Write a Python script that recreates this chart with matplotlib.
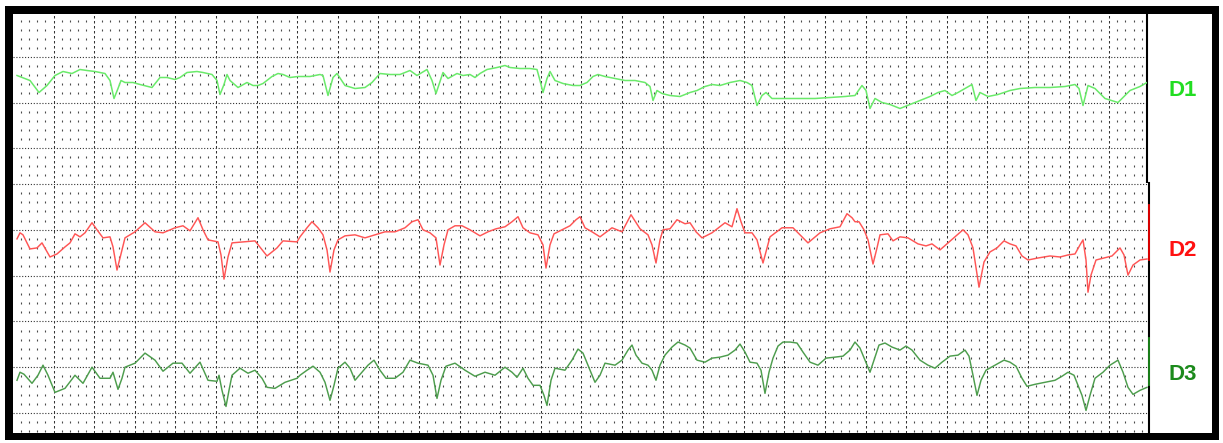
import numpy as np
import matplotlib
matplotlib.use("Agg")
import matplotlib.pyplot as plt
from matplotlib.patches import Rectangle

# ---------------- data (sample index @ 203 Hz, amplitude in ADC counts, 91 counts = 1 mV)
FS = 203.0
GAIN = 91.0

d1_n = [4, 17, 26, 34, 42, 50, 59, 67, 74, 82, 92, 97, 101, 105, 108, 112, 120, 127, 139, 147,
        154, 162, 167, 174, 184, 190, 199, 204, 207, 211, 214, 217, 225, 234, 240, 245, 250, 259, 265, 270,
        277, 285, 297, 307, 310, 315, 320, 324, 332, 342, 352, 359, 367, 377, 387, 397, 404, 414, 419, 423,
        430, 435, 444, 450, 457, 462, 467, 474, 484, 492, 497, 507, 517, 524, 527, 530, 534, 537, 542, 550,
        560, 567, 574, 580, 585, 592, 602, 612, 622, 632, 637, 640, 644, 649, 657, 667, 677, 684, 692, 699,
        707, 717, 727, 734, 739, 744, 749, 753, 759, 772, 787, 802, 817, 832, 842, 849, 853, 857, 862, 869,
        877, 887, 897, 907, 917, 925, 932, 939, 945, 952, 959, 963, 967, 975, 985, 997, 1007, 1022, 1037, 1052,
        1062, 1066, 1070, 1075, 1082, 1092, 1105, 1117, 1127, 1134]
d1_v = [27, 22, 10, 17, 27, 31, 29, 33, 32, 31, 29, 22, 4, 14, 22, 20, 20, 18, 15, 25,
        25, 23, 25, 30, 31, 30, 28, 22, 8, 18, 28, 22, 15, 20, 17, 17, 19, 26, 29, 28,
        25, 26, 26, 28, 27, 7, 25, 29, 17, 14, 15, 20, 29, 28, 28, 32, 27, 33, 22, 9,
        30, 24, 29, 27, 28, 25, 29, 33, 35, 37, 35, 34, 34, 33, 22, 10, 24, 31, 22, 19,
        17, 17, 20, 26, 28, 26, 24, 22, 22, 20, 16, 2, 12, 9, 7, 6, 10, 12, 16, 18,
        17, 20, 22, 20, 17, -3, 7, 10, 4, 4, 4, 4, 5, 6, 7, 17, 12, -6, 4, 0,
        -2, -6, -2, 2, 6, 10, 12, 7, 10, 14, 18, 2, 10, 6, 8, 12, 14, 15, 15, 16,
        18, 14, -3, 17, 14, 4, 0, 12, 16, 20]

d2_n = [4, 7, 10, 17, 24, 29, 37, 44, 52, 57, 62, 67, 72, 79, 84, 90, 97, 100, 104, 109,
        112, 122, 132, 142, 150, 162, 170, 177, 185, 190, 195, 205, 208, 211, 215, 219, 230, 242, 254, 264,
        270, 284, 287, 294, 299, 305, 310, 314, 317, 321, 325, 332, 342, 352, 362, 372, 382, 392, 399, 405,
        410, 417, 423, 427, 431, 435, 442, 449, 457, 467, 475, 483, 492, 499, 505, 510, 517, 525, 530, 533,
        537, 541, 549, 557, 563, 567, 572, 579, 587, 599, 609, 618, 627, 635, 639, 643, 647, 650, 657, 664,
        672, 677, 683, 689, 699, 712, 719, 724, 728, 732, 739, 744, 750, 754, 757, 769, 780, 787, 795, 807,
        817, 827, 834, 839, 842, 846, 851, 855, 860, 864, 867, 875, 880, 887, 895, 905, 913, 919, 927, 935,
        942, 950, 955, 960, 966, 971, 977, 984, 991, 997, 1003, 1009, 1015, 1025, 1037, 1047, 1055, 1062, 1067, 1070,
        1073, 1075, 1078, 1083, 1091, 1099, 1107, 1111, 1115, 1120, 1127, 1134]
d2_v = [-9, -3, -5, -19, -18, -13, -27, -24, -17, -13, -4, -7, -3, 7, 0, -8, -7, -17, -40, -20,
        -8, -2, 7, -2, -3, 2, 4, -1, 12, 0, -10, -12, -25, -49, -27, -13, -12, -11, -26, -18,
        -11, -12, -7, 2, 8, 2, -5, -20, -42, -20, -10, -6, -5, -8, -5, -2, -2, 2, 8, 10,
        0, -3, -8, -35, -15, 0, 4, 4, 0, -6, -2, 1, 3, 8, 13, 2, -3, -5, -15, -38,
        -15, -4, 0, 4, 10, 13, 2, -2, -7, 2, -2, 15, 1, -5, -15, -33, -10, 0, 1, 10,
        6, 7, -2, -8, -3, 7, 3, 21, 8, -3, -3, -10, -33, -18, -7, 2, 2, -5, -13, -3,
        1, 3, 16, 12, 8, 8, 0, -10, -34, -18, -5, -4, -11, -7, -8, -14, -16, -14, -20, -13,
        -7, 0, -5, -18, -57, -32, -22, -18, -11, -14, -16, -26, -30, -28, -26, -27, -25, -24, -15, -10,
        -30, -62, -45, -30, -28, -26, -18, -25, -45, -35, -30, -29]

d3_n = [4, 7, 11, 19, 25, 30, 35, 42, 52, 62, 70, 79, 87, 97, 100, 105, 109, 112, 122, 132,
        142, 150, 160, 169, 177, 187, 195, 204, 206, 209, 213, 216, 219, 227, 235, 242, 249, 254, 262, 272,
        284, 287, 294, 300, 307, 312, 317, 321, 325, 332, 337, 342, 349, 355, 361, 367, 373, 382, 390, 397,
        405, 415, 420, 424, 428, 433, 442, 452, 462, 472, 482, 492, 499, 504, 510, 515, 520, 527, 531, 534,
        538, 542, 552, 559, 565, 570, 575, 582, 587, 592, 602, 609, 615, 619, 623, 629, 635, 639, 643, 647,
        652, 659, 665, 672, 677, 684, 692, 699, 707, 715, 722, 727, 732, 737, 744, 748, 752, 756, 760, 765,
        770, 777, 784, 790, 797, 805, 813, 822, 830, 837, 842, 847, 852, 857, 861, 866, 872, 879, 887, 893,
        899, 907, 915, 922, 929, 937, 945, 952, 956, 960, 964, 968, 973, 982, 991, 997, 1003, 1009, 1014, 1022,
        1032, 1042, 1049, 1055, 1061, 1065, 1069, 1073, 1077, 1082, 1090, 1097, 1105, 1110, 1115, 1120, 1127, 1134]
d3_v = [-13, -5, -7, -16, -8, 2, -8, -25, -21, -8, -16, 0, -11, -11, -5, -22, -11, 0, 4, 14,
        7, -4, 4, 4, -6, 5, -13, -14, -8, -23, -39, -23, -8, -1, -6, -3, -11, -20, -21, -15,
        -11, -8, -3, 1, -5, -15, -33, -18, -1, 5, -1, -13, -5, 2, 7, -3, -11, -11, -5, 7,
        4, 2, -8, -31, -13, 1, 4, -3, -9, -5, -8, 0, -5, -10, -1, -11, -18, -18, -28, -38,
        -13, -1, -3, 7, 18, 14, 2, -15, -8, 4, 2, 7, 17, 22, 12, 4, 2, -3, -13, 2,
        12, 20, 25, 22, 19, 7, 5, 9, 10, 12, 17, 23, 15, 5, 4, -3, -26, -5, 9, 21,
        25, 25, 24, 15, 5, 2, 9, 10, 11, 17, 25, 19, 7, -5, 7, 22, 24, 20, 17, 21,
        17, 7, 2, -1, 5, 11, 12, 17, 11, -8, -28, -13, -3, 2, 7, 5, 1, -11, -19, -17,
        -15, -13, -9, -5, -8, -18, -28, -43, -28, -11, -5, 2, 7, -5, -20, -27, -23, -20]

leads = ["D1", "D2", "D3"]
trace_colors = ["#6aea6a", "#ff5555", "#4d9d4d"]
label_colors = ["#22dd22", "#ff1111", "#1c8a1c"]

# ---------------- figure
W, H = 1223, 443
fig = plt.figure(figsize=(W / 100, H / 100), dpi=100)
fig.patch.set_facecolor("white")

def fx(px):
    return px / W

def fy(py):
    return 1 - py / H

fig.add_artist(Rectangle((fx(5), fy(440)), fx(1219) - fx(5), fy(6) - fy(440),
                         transform=fig.transFigure, facecolor="black", edgecolor="none", zorder=-2))
fig.add_artist(Rectangle((fx(13), fy(433)), fx(1212) - fx(13), fy(14) - fy(433),
                         transform=fig.transFigure, facecolor="white", edgecolor="none", zorder=-1))

MAJ_C = "#333333"
MIN_C = "#4a4a4a"


def draw_grid(ax, x0, x1, y0, y1):
    # vertical majors (0.2 s), horizontal majors (0.5 mV)
    xs_major = np.arange(0, x1 + 1e-9, 0.2)
    xs_major = xs_major[xs_major > x0 + 1e-6]
    ys_major = np.arange(np.ceil(y0 / 0.5) * 0.5, y1 + 1e-9, 0.5)
    for x in xs_major:
        ax.axvline(x, color=MAJ_C, lw=0.75, ls=(0, (2.4, 2.4)), zorder=1)
    for y in ys_major:
        ax.axhline(y, color=MAJ_C, lw=0.8, ls=(0, (1, 1.6)), zorder=1)
    # minor intersections: short ticks
    xm = np.arange(0, x1 + 1e-9, 0.04)
    xm = xm[(np.abs(xm / 0.2 - np.round(xm / 0.2)) > 1e-6) & (xm > x0 + 1e-6)]
    ym = np.arange(np.ceil(y0 / 0.1) * 0.1, y1 + 1e-9, 0.1)
    ym = ym[np.abs(ym / 0.5 - np.round(ym / 0.5)) > 1e-6]
    gx, gy = np.meshgrid(xm, ym)
    ax.plot(gx.ravel(), gy.ravel(), ls="none", marker="|", ms=1.8, mew=0.8,
            color=MIN_C, zorder=1)


# top panel (D1)
top_l, top_r, top_t, top_b = 13, 1147, 14, 183
ax1 = fig.add_axes([fx(top_l), fy(top_b), fx(top_r) - fx(top_l), fy(top_t) - fy(top_b)])
px_per_mv_top = 91.0
zero_top = 102.5
y0_top = -(top_b - zero_top) / px_per_mv_top
y1_top = (zero_top - top_t) / px_per_mv_top
x1_top = (top_r - top_l) / FS
ax1.set_xlim(0, x1_top)
ax1.set_ylim(y0_top, y1_top)
draw_grid(ax1, 0, x1_top, y0_top, y1_top)
ax1.plot(np.array(d1_n) / FS, np.array(d1_v) / GAIN, color=trace_colors[0], lw=1.1, zorder=3)

# bottom panel (D2, D3)
bot_l, bot_r, bot_t, bot_b = 13, 1149, 183, 433
ax2 = fig.add_axes([fx(bot_l), fy(bot_b), fx(bot_r) - fx(bot_l), fy(bot_t) - fy(bot_b)])
px_per_mv_bot = 91.6
zero_bot = 413.0
y0_bot = -(bot_b - zero_bot) / px_per_mv_bot
y1_bot = (zero_bot - bot_t) / px_per_mv_bot
x1_bot = (bot_r - bot_l) / FS
ax2.set_xlim(0, x1_bot)
ax2.set_ylim(y0_bot, y1_bot)
draw_grid(ax2, 0, x1_bot, y0_bot, y1_bot)
off_d2, off_d3 = 2.0, 0.5
ax2.plot(np.array(d2_n) / FS, np.array(d2_v) / GAIN + off_d2, color=trace_colors[1], lw=1.05, zorder=3)
ax2.plot(np.array(d3_n) / FS, np.array(d3_v) / GAIN + off_d3, color=trace_colors[2], lw=1.05, zorder=3)
# calibration marks at right edge
ax2.plot([x1_bot, x1_bot], [off_d2 - 0.33, off_d2 + 0.27], color="#ee0000", lw=1.3, zorder=4, clip_on=False)
ax2.plot([x1_bot, x1_bot], [off_d3 - 0.19, off_d3 + 0.32], color="#1c8a1c", lw=1.3, zorder=4, clip_on=False)

for ax in (ax1, ax2):
    ax.set_facecolor("white")
    ax.set_xticks([])
    ax.set_yticks([])
    for s in ("top", "left", "bottom"):
        ax.spines[s].set_visible(False)
    ax.spines["right"].set_color("black")
    ax.spines["right"].set_linewidth(1.5)

# lead labels
label_pos = [(1183, 90), (1183, 251), (1183, 375)]
for name, (px, py), c in zip(leads, label_pos, label_colors):
    fig.text(fx(px), fy(py), name, color=c, fontsize=16, ha="center", va="center",
             family="Liberation Sans", fontweight="bold")

fig.savefig("out.png", dpi=100, facecolor="white")
